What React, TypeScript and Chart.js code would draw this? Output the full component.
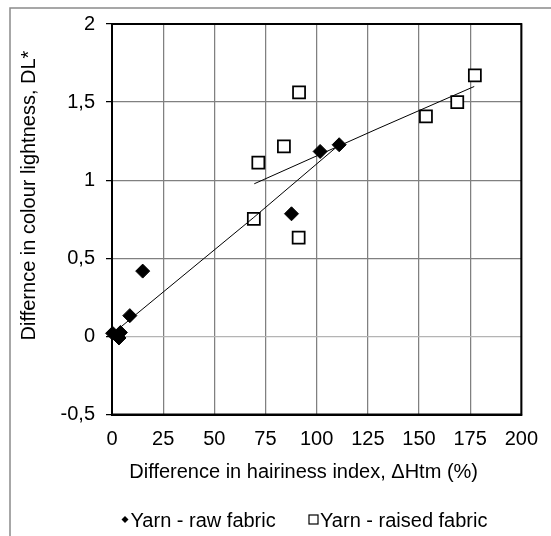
import React, { useEffect, useRef } from 'react';
import { Chart, registerables } from 'chart.js';

Chart.register(...registerables);

// ---- data ----
const rawX = [0.3, 3.4, 4.1, 8.7, 15.0, 87.7, 101.7, 111.0];
const rawY = [0.02, -0.01, 0.025, 0.133, 0.418, 0.785, 1.184, 1.227];
const raisedX = [69.3, 71.5, 84.0, 91.4, 91.2, 153.4, 168.7, 177.3];
const raisedY = [0.753, 1.113, 1.216, 1.562, 0.633, 1.408, 1.5, 1.671];
const rawTrendX = [1.5, 69.3, 111.3];
const rawTrendY = [0.03, 0.762, 1.23];
const raisedTrendX = [69.5, 129.5, 177.0];
const raisedTrendY = [0.977, 1.328, 1.6];
const xTicks = [0, 25, 50, 75, 100, 125, 150, 175, 200];
const yTicks = [-0.5, 0, 0.5, 1, 1.5, 2];
const seriesLabels = ['Yarn - raw fabric', 'Yarn - raised fabric'];
const xTitle = 'Difference in hairiness index, \u0394Htm (%)';
const yTitle = 'Differnce in colour lightness, DL*';

const FONT = '"Liberation Sans", Arial, sans-serif';

const zip = (xs: number[], ys: number[]) => xs.map((x, i) => ({ x, y: ys[i] }));

const decoPlugin = {
  id: 'deco',
  beforeDraw(chart: any) {
    const ctx = chart.ctx;
    ctx.save();
    ctx.fillStyle = '#ffffff';
    ctx.fillRect(0, 0, chart.width, chart.height);
    ctx.strokeStyle = '#8a8a8a';
    ctx.lineWidth = 1.5;
    ctx.strokeRect(10, 8, chart.width + 20, chart.height + 20);
    ctx.restore();
  },
  beforeDatasetsDraw(chart: any) {
    const { ctx, chartArea } = chart;
    ctx.save();
    ctx.strokeStyle = '#000';
    ctx.lineWidth = 2;
    ctx.strokeRect(chartArea.left, chartArea.top, chartArea.right - chartArea.left, chartArea.bottom - chartArea.top);
    ctx.restore();
  },
  afterDraw(chart: any) {
    const { ctx, chartArea } = chart;
    ctx.save();
    ctx.fillStyle = '#000';
    ctx.font = `20px ${FONT}`;
    // x title
    ctx.textAlign = 'center';
    ctx.textBaseline = 'alphabetic';
    ctx.fillText(xTitle, (chartArea.left + chartArea.right) / 2 - 13, 477.5);
    // y title
    ctx.save();
    ctx.translate(34.5, 195.5);
    ctx.rotate(-Math.PI / 2);
    ctx.fillText(yTitle, 0, 0);
    ctx.restore();
    // legend
    const baseY = 526.5;
    const midY = 519.5;
    ctx.textAlign = 'left';
    // diamond
    ctx.beginPath();
    ctx.moveTo(125, midY - 3.5);
    ctx.lineTo(128.5, midY);
    ctx.lineTo(125, midY + 3.5);
    ctx.lineTo(121.5, midY);
    ctx.closePath();
    ctx.fill();
    ctx.fillText(seriesLabels[0], 130.5, baseY);
    // square
    ctx.strokeStyle = '#000';
    ctx.lineWidth = 1.2;
    ctx.fillStyle = '#fff';
    ctx.fillRect(309, midY - 4.5, 9, 9);
    ctx.strokeRect(309, midY - 4.5, 9, 9);
    ctx.fillStyle = '#000';
    ctx.fillText(seriesLabels[1], 320, baseY);
    ctx.restore();
  },
};

export default function App() {
  const ref = useRef<HTMLCanvasElement | null>(null);
  useEffect(() => {
    document.body.style.margin = '0';
    const canvas = ref.current;
    if (!canvas) return;
    const chart = new Chart(canvas, {
      type: 'scatter',
      data: {
        datasets: [
          {
            label: 'raw trend',
            data: zip(rawTrendX, rawTrendY),
            showLine: true,
            borderColor: '#000',
            borderWidth: 1,
            pointRadius: 0,
            fill: false,
          },
          {
            label: 'raised trend',
            data: zip(raisedTrendX, raisedTrendY),
            showLine: true,
            borderColor: '#000',
            borderWidth: 1,
            pointRadius: 0,
            fill: false,
          },
          {
            label: seriesLabels[0],
            data: zip(rawX, rawY),
            pointStyle: 'rectRot',
            pointRadius: 7,
            backgroundColor: '#000',
            borderColor: '#000',
            borderWidth: 1,
          },
          {
            label: seriesLabels[1],
            data: zip(raisedX, raisedY),
            pointStyle: 'rect',
            pointRadius: 8.5,
            backgroundColor: '#fff',
            borderColor: '#000',
            borderWidth: 1.75,
          },
        ],
      } as any,
      options: {
        responsive: false,
        animation: false,
        events: [],
        clip: false as any,
        layout: { padding: { left: 0, right: 25, top: 24, bottom: 0 } },
        plugins: { legend: { display: false }, tooltip: { enabled: false } },
        scales: {
          x: {
            type: 'linear',
            min: 0,
            max: 200,
            afterBuildTicks: (s: any) => {
              s.ticks = xTicks.map((v) => ({ value: v }));
            },
            afterFit: (s: any) => {
              s.height = 121.5;
            },
            grid: { color: '#808080', lineWidth: 1.25, drawTicks: false },
            border: { color: '#000', width: 2 },
            ticks: { padding: 13, color: '#000', font: { size: 20, family: FONT } },
          },
          y: {
            type: 'linear',
            min: -0.5,
            max: 2,
            afterBuildTicks: (s: any) => {
              s.ticks = yTicks.map((v) => ({ value: v }));
            },
            afterFit: (s: any) => {
              s.width = 112;
            },
            grid: {
              color: (c: any) => (c.tick && c.tick.value === 0 ? '#b4b4b4' : '#808080'),
              lineWidth: 1.25,
              tickColor: '#000',
              tickLength: 6,
            },
            border: { color: '#000', width: 2 },
            ticks: {
              padding: 11,
              color: '#000',
              font: { size: 20, family: FONT },
              callback: (v: any) => String(v).replace('.', ','),
            },
          },
        },
      } as any,
      plugins: [decoPlugin],
    });
    return () => chart.destroy();
  }, []);
  return <canvas ref={ref} width={551} height={536} style={{ display: 'block' }} />;
}
